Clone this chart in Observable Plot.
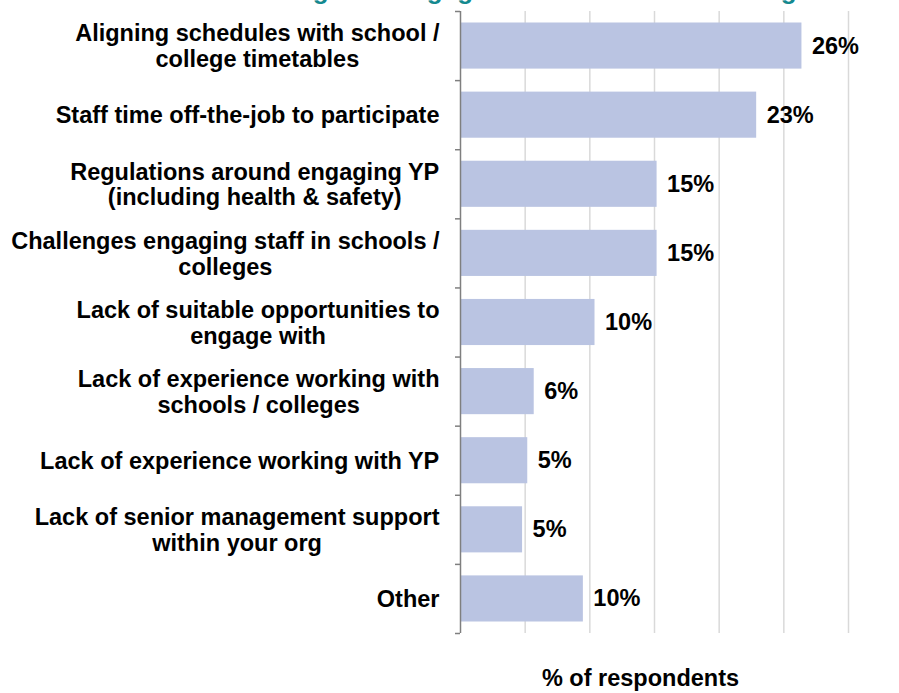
<!DOCTYPE html>
<html>
<head>
<meta charset="utf-8">
<script src="https://cdn.jsdelivr.net/npm/d3@7"></script>
<script src="https://cdn.jsdelivr.net/npm/@observablehq/plot@0.6"></script>
<style>
  html, body { margin: 0; padding: 0; background: #fff; overflow: hidden; }
  #wrap { position: relative; width: 899px; height: 693px; overflow: hidden; }
  #title { position: absolute; left: 2px; top: -23px; white-space: nowrap;
    font: bold 26px "Liberation Sans", Arial, sans-serif; color: #14898f; line-height: 1; }
  svg { display: block; }
</style>
</head>
<body>
<div id="wrap">
  <div id="title">Potential barriers/challenges to engagement with school / college activities</div>
  <div id="chart"></div>
</div>
<script>
const categories = [
  "Aligning schedules with school /\ncollege timetables",
  "Staff time off-the-job to participate",
  "Regulations around engaging YP\n(including health & safety)",
  "Challenges engaging staff in schools /\ncolleges",
  "Lack of suitable opportunities to\nengage with",
  "Lack of experience working with\nschools / colleges",
  "Lack of experience working with YP",
  "Lack of senior management support\nwithin your org",
  "Other"
];
const values = [26.4, 22.9, 15.2, 15.2, 10.4, 5.7, 5.2, 4.8, 9.5];
const valueLabels = ["26%", "23%", "15%", "15%", "10%", "6%", "5%", "5%", "10%"];
const gridTicks = [5, 10, 15, 20, 25, 30];
const xLabel = "% of respondents";

const data = categories.map((c, i) => ({cat: c, value: values[i], label: valueLabels[i]}));

const W = 899, H = 693;
const mTop = 11, mBottom = 60, mLeft = 460, mRight = 51;
const step = (H - mTop - mBottom) / categories.length;
const FONT = "Liberation Sans, Arial, sans-serif";
const FS = 23.5;

const ctx = document.createElement("canvas").getContext("2d");
ctx.font = `bold ${FS}px "Liberation Sans", Arial, sans-serif`;

const labelMarks = categories.map(c => {
  const w = Math.max(...c.split("\n").map(l => ctx.measureText(l).width));
  return Plot.text([c], {
    y: d => d, text: d => d, frameAnchor: "left", textAnchor: "middle",
    dx: -21 - w / 2, lineHeight: 1.1, fontSize: FS, fontWeight: "bold", fill: "#000"
  });
});

const chart = Plot.plot({
  width: W, height: H,
  marginTop: mTop, marginBottom: mBottom, marginLeft: mLeft, marginRight: mRight,
  style: {fontFamily: FONT, background: "transparent"},
  x: {domain: [0, 30], axis: null},
  y: {domain: categories, padding: 0, round: false, axis: null},
  marks: [
    Plot.gridX(gridTicks, {stroke: "#d9d9d9", strokeOpacity: 1, strokeWidth: 1.5}),
    Plot.barX(data, {x: "value", y: "cat", fill: "#bac4e2", insetTop: 11.5, insetBottom: 11.5}),
    Plot.ruleX([0], {stroke: "#7f7f7f", strokeWidth: 1.5}),
    Plot.axisY({tickSize: 5, dy: -step / 2, tickFormat: () => "", stroke: "#7f7f7f", strokeWidth: 1.5, label: null}),
    Plot.axisY([categories[categories.length - 1]], {tickSize: 5, dy: step / 2, tickFormat: () => "", stroke: "#7f7f7f", strokeWidth: 1.5, label: null}),
    Plot.text(data, {x: "value", y: "cat", text: "label", textAnchor: "start", dx: 10, fontSize: FS, fontWeight: "bold", fill: "#000"}),
    ...labelMarks,
    Plot.text([xLabel], {frameAnchor: "bottom", text: d => d, dx: -14, dy: 52, fontSize: FS, fontWeight: "bold", fill: "#000"})
  ]
});
document.getElementById("chart").appendChild(chart);
</script>
</body>
</html>
